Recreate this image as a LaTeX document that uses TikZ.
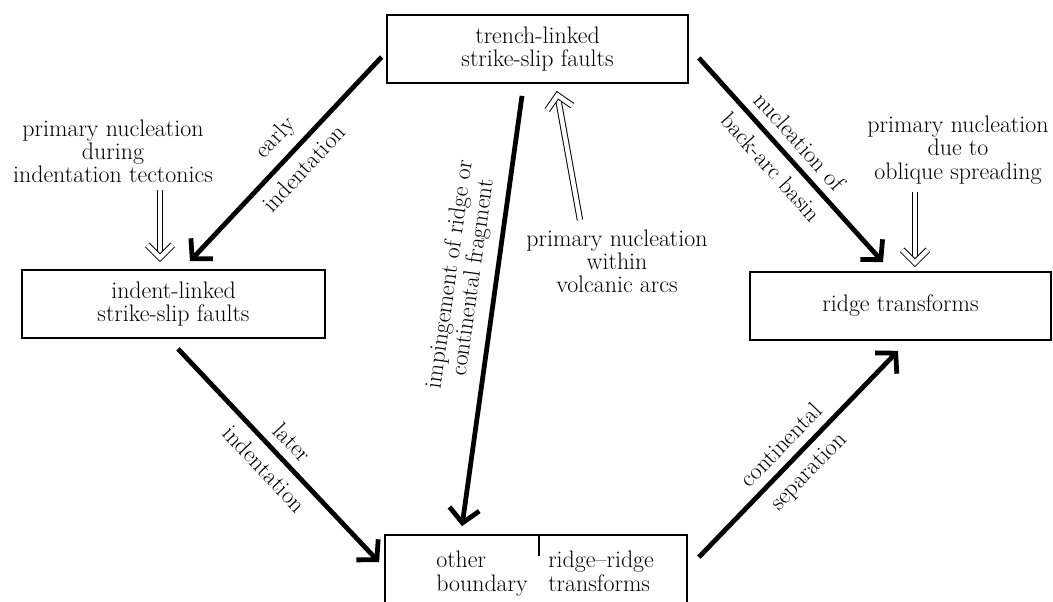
\documentclass[tikz,border=0pt]{standalone}
\usepackage{tikz}
\usetikzlibrary{arrows.meta, positioning, calc}

\newcommand{\faultfont}{\fontsize{17}{16.5}\selectfont}

\begin{document}
\begin{tikzpicture}[
  x=0.025cm, y=-0.025cm,
  faultbox/.style={
    rectangle, draw, line width=1.2pt, minimum width=7.525cm,
    minimum height=1.7cm, align=center, font=\faultfont, inner sep=0pt,
  },
  note/.style={align=center, font=\faultfont, inner sep=0pt},
  drive/.style={
    line width=3.4pt, -{Straight Barb[length=0.35cm, width=0.75cm, sharp]},
  },
  hollow/.style={double, double distance=0.11cm, line width=0.7pt},
  tag/.style={font=\faultfont, sloped, inner sep=4pt},
]
  \useasboundingbox (0,0) rectangle (1053,601);
  \clip (0,0) rectangle (1053,601);

  % boxes
  \node[faultbox] (trench) at (537.5,49) {trench-linked\\strike-slip faults};
  \node[faultbox, minimum width=7.575cm] (indent) at (173.5,304) {indent-linked\\strike-slip faults};
  \node[faultbox] (ridge) at (900.5,306) {ridge transforms};
  \node[faultbox, minimum width=7.55cm, minimum height=2.375cm] (other) at (536,582.5) {};
  \draw[line width=1.2pt] ($(other.north west)+(155,0)$) -- ++(0,22);
  \node[note, align=left, anchor=north west] (otherl) at (436,551) {other\\boundary};
  \node[note, align=left, anchor=north west] (otherr) at (548,551) {ridge--ridge\\transforms};

  % notes
  \node[note] (indentnote) at (113,151) {primary nucleation\\during\\indentation tectonics};
  \node[note] (arcnote) at (617,261) {primary nucleation\\within\\volcanic arcs};
  \node[note] (ridgenote) at (958,150) {primary nucleation\\due to\\oblique spreading};

  % thick arrows
  \draw[drive] ($(trench.west)+(-4.5,8)$) -- ($(indent.north)+(16.5,-8)$)
    node[tag, pos=0.47, above=2pt] {early}
    node[tag, pos=0.48, below=2pt] {indentation};
  \draw[drive] ($(indent.south)+(4.5,10)$) -- ($(other.north west)+(-5,28)$)
    node[tag, pos=0.5, above=2pt] {later}
    node[tag, pos=0.5, below=2pt] {indentation};
  \draw[drive] ($(trench.south)+(-15.5,12)$) -- ($(other.north)+(-74,-8)$)
    node[tag, pos=0.43, above=3pt, align=center] {impingement of ridge or\\continental fragment};
  \draw[drive] ($(trench.east)+(10,9)$) -- ($(ridge.north)+(-17.5,-9)$)
    node[tag, pos=0.47, above=2pt] {nucleation of}
    node[tag, pos=0.47, below=2pt] {back-arc basin};
  \draw[drive] ($(other.north east)+(11,23)$) -- ($(ridge.south)+(-2.5,10)$)
    node[tag, pos=0.48, above=2pt] {continental}
    node[tag, pos=0.48, below=2pt] {separation};

  % hollow arrows
  \coordinate (indentfoot) at (160,190);
  \coordinate (indenttip) at ($(indent.north -| indentfoot)+(0,-11.5)$);
  \coordinate (arcfoot) at (580,220);
  \coordinate (arctip) at ($(trench.south)+(20,11.5)$);
  \coordinate (ridgefoot) at (915,192);
  \coordinate (ridgetip) at ($(ridge.north -| ridgefoot)+(0,-8.5)$);
  \foreach \foot/\tip in {indentfoot/indenttip, arcfoot/arctip, ridgefoot/ridgetip} {
    \draw[hollow, shorten >=2pt] (\foot) -- (\tip);
    \draw[hollow] ($(\tip)!0.45cm!45:(\foot)$) -- (\tip) -- ($(\tip)!0.45cm!-45:(\foot)$);
  }
\end{tikzpicture}
\end{document}
